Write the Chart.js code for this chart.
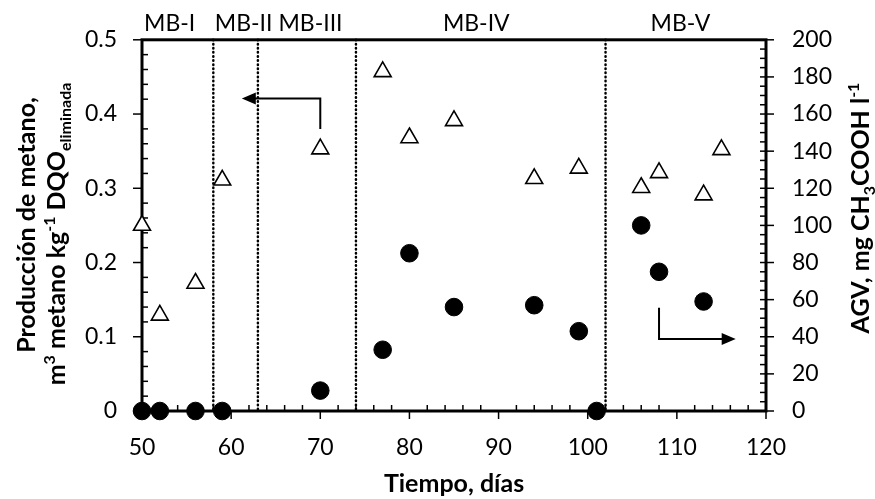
<!DOCTYPE html>
<html lang="es">
<head>
<meta charset="utf-8">
<title>Producción de metano y AGV</title>
<script src="https://cdn.jsdelivr.net/npm/chart.js@4.4.1/dist/chart.umd.min.js"></script>
<style>
  html, body { margin: 0; padding: 0; background: #fff; }
  #wrap { width: 875px; height: 499px; position: relative; }
</style>
</head>
<body>
<div id="wrap"><canvas id="grafico"></canvas></div>
<script>
// Datos
const dias   = [50, 52, 56, 59, 70, 77, 80, 85, 94, 99, 101, 106, 108, 113, 115];
const metano = [0.250, 0.129, 0.172, 0.311, 0.353, 0.457, 0.368, 0.391, 0.313, 0.327, null, 0.301, 0.321, 0.291, 0.352];
const agv    = [0, 0, 0, 0, 11, 33, 85, 56, 57, 43, 0, 100, 75, 59, null];

// Etapas del reactor
const etapas     = ['MB-I', 'MB-II', 'MB-III', 'MB-IV', 'MB-V'];
const etapasX    = [53.1, 61.4, 68.9, 87.5, 110.4];
const divisiones = [58, 63, 74, 102];

const FUENTE = 'Lato, "Open Sans", sans-serif';

document.addEventListener('DOMContentLoaded', function() {
    crearGrafico();
});

/**
 * Dibuja una linea simple
 */
function linea(ctx, x1, y1, x2, y2) {
    ctx.beginPath();
    ctx.moveTo(x1, y1);
    ctx.lineTo(x2, y2);
    ctx.stroke();
}

/**
 * Texto con superindices y subindices, centrado en (x, y) sobre la linea base
 */
function textoRico(ctx, partes, x, y, girar) {
    const fuente = p => p.s ? 'bold 16px ' + FUENTE : 'bold 25px ' + FUENTE;
    ctx.save();
    ctx.translate(x, y);
    if (girar) ctx.rotate(-Math.PI / 2);
    ctx.fillStyle = '#000';
    ctx.textAlign = 'left';
    ctx.textBaseline = 'alphabetic';
    let total = 0;
    partes.forEach(p => { ctx.font = fuente(p); total += ctx.measureText(p.t).width; });
    let cx = -total / 2;
    partes.forEach(p => {
        ctx.font = fuente(p);
        const dy = p.s === 'sup' ? -10 : (p.s === 'sub' ? 6 : 0);
        ctx.fillText(p.t, cx, dy);
        cx += ctx.measureText(p.t).width;
    });
    ctx.restore();
}

/**
 * Marco, marcas de los ejes y divisiones punteadas
 */
const marcoPlugin = {
    id: 'marco',
    beforeDatasetsDraw(chart) {
        const { ctx, chartArea: a, scales } = chart;
        ctx.save();
        ctx.strokeStyle = '#000';

        // divisiones entre etapas (puntos redondos)
        ctx.lineWidth = 2.5;
        ctx.lineCap = 'round';
        ctx.setLineDash([0.5, 3.6]);
        divisiones.forEach(d => {
            const px = scales.x.getPixelForValue(d);
            linea(ctx, px, a.top, px, a.bottom);
        });
        ctx.setLineDash([]);
        ctx.lineCap = 'butt';

        // marcas eje x (cada 2 dias)
        ctx.lineWidth = 1.5;
        for (let v = 50; v <= 120; v += 2) {
            const px = scales.x.getPixelForValue(v);
            if (v % 10 === 0) linea(ctx, px, a.bottom, px, a.bottom + 8);
            else linea(ctx, px, a.bottom, px, a.bottom - 6);
        }
        // marcas eje izquierdo (cada 0.02)
        for (let i = 0; i <= 25; i++) {
            const py = scales.y.getPixelForValue(i * 0.02);
            if (i % 5 === 0) linea(ctx, a.left - 9, py, a.left, py);
            else linea(ctx, a.left, py, a.left + 6, py);
        }
        // marcas eje derecho (cada 5)
        for (let i = 0; i <= 40; i++) {
            const py = scales.y2.getPixelForValue(i * 5);
            if (i % 4 === 0) linea(ctx, a.right - 6, py, a.right + 8, py);
            else linea(ctx, a.right - 6, py, a.right, py);
        }

        // marco
        ctx.lineWidth = 3;
        ctx.strokeRect(a.left, a.top, a.right - a.left, a.bottom - a.top);
        ctx.restore();
    },
    afterDatasetsDraw(chart) {
        const { ctx, scales } = chart;
        const x = scales.x, y = scales.y;
        ctx.save();
        ctx.strokeStyle = '#000';
        ctx.fillStyle = '#000';
        ctx.lineWidth = 2;

        // flecha hacia el eje izquierdo
        let x0 = x.getPixelForValue(70), y0 = y.getPixelForValue(0.380);
        let y1 = y.getPixelForValue(0.421), x1 = x.getPixelForValue(61.2);
        ctx.beginPath();
        ctx.moveTo(x0, y0); ctx.lineTo(x0, y1); ctx.lineTo(x1 + 12, y1);
        ctx.stroke();
        ctx.beginPath();
        ctx.moveTo(x1, y1); ctx.lineTo(x1 + 14, y1 - 6); ctx.lineTo(x1 + 14, y1 + 6);
        ctx.closePath(); ctx.fill();

        // flecha hacia el eje derecho
        x0 = x.getPixelForValue(108); y0 = y.getPixelForValue(0.139);
        y1 = y.getPixelForValue(0.097); x1 = x.getPixelForValue(116.6);
        ctx.beginPath();
        ctx.moveTo(x0, y0); ctx.lineTo(x0, y1); ctx.lineTo(x1 - 12, y1);
        ctx.stroke();
        ctx.beginPath();
        ctx.moveTo(x1, y1); ctx.lineTo(x1 - 14, y1 - 6); ctx.lineTo(x1 - 14, y1 + 6);
        ctx.closePath(); ctx.fill();
        ctx.restore();
    },
    afterDraw(chart) {
        const { ctx, scales } = chart;
        ctx.save();
        ctx.fillStyle = '#000';
        ctx.font = '23px ' + FUENTE;
        ctx.textAlign = 'center';
        ctx.textBaseline = 'middle';
        etapas.forEach((t, i) => ctx.fillText(t, scales.x.getPixelForValue(etapasX[i]), 24));
        ctx.restore();

        // titulos de los ejes verticales
        textoRico(ctx, [{ t: 'Producción de metano,' }], 35, 225, true);
        textoRico(ctx, [
            { t: 'm' }, { t: '3', s: 'sup' }, { t: ' metano kg' }, { t: '-1', s: 'sup' },
            { t: ' DQO' }, { t: 'eliminada', s: 'sub' }
        ], 65, 234, true);
        textoRico(ctx, [
            { t: 'AGV, mg CH' }, { t: '3', s: 'sub' }, { t: 'COOH l' }, { t: '-1', s: 'sup' }
        ], 869, 208, true);
    }
};

/**
 * Crea el grafico de dispersion con dos ejes verticales
 */
function crearGrafico() {
    const ctx = document.getElementById('grafico').getContext('2d');
    const tickFont = { family: FUENTE, size: 23 };

    new Chart(ctx, {
        type: 'scatter',
        data: {
            datasets: [{
                label: 'AGV',
                data: dias.map((d, i) => ({ x: d, y: agv[i] })),
                yAxisID: 'y2',
                pointStyle: 'circle',
                radius: 8.8,
                backgroundColor: '#000',
                borderColor: '#000',
                borderWidth: 1,
                clip: false
            }, {
                label: 'Producción de metano',
                data: dias.map((d, i) => ({ x: d, y: metano[i] })),
                yAxisID: 'y',
                pointStyle: 'triangle',
                radius: 9.8,
                backgroundColor: '#fff',
                borderColor: '#000',
                borderWidth: 1.6,
                clip: false
            }]
        },
        options: {
            responsive: true,
            maintainAspectRatio: false,
            animation: false,
            events: [],
            layout: { padding: { top: 36, left: 0, right: 0, bottom: 0 } },
            plugins: {
                legend: { display: false },
                tooltip: { enabled: false }
            },
            scales: {
                x: {
                    type: 'linear',
                    position: 'bottom',
                    min: 50,
                    max: 120,
                    ticks: { stepSize: 10, color: '#000', font: tickFont, padding: 23 },
                    grid: { display: false, drawTicks: false },
                    border: { display: false },
                    title: {
                        display: true,
                        text: 'Tiempo, días',
                        color: '#000',
                        font: { family: FUENTE, size: 25, weight: 'bold' },
                        padding: { top: 0, bottom: 0 }
                    },
                    afterFit: s => { s.height = 88; }
                },
                y: {
                    position: 'left',
                    min: 0,
                    max: 0.5,
                    ticks: { stepSize: 0.1, color: '#000', font: tickFont, padding: 25 },
                    grid: { display: false, drawTicks: false },
                    border: { display: false },
                    afterFit: s => { s.width = 142; }
                },
                y2: {
                    position: 'right',
                    min: 0,
                    max: 200,
                    ticks: { stepSize: 20, color: '#000', font: tickFont, padding: 26 },
                    grid: { display: false, drawTicks: false },
                    border: { display: false },
                    afterFit: s => { s.width = 109; }
                }
            }
        },
        plugins: [marcoPlugin]
    });
}
</script>
</body>
</html>
